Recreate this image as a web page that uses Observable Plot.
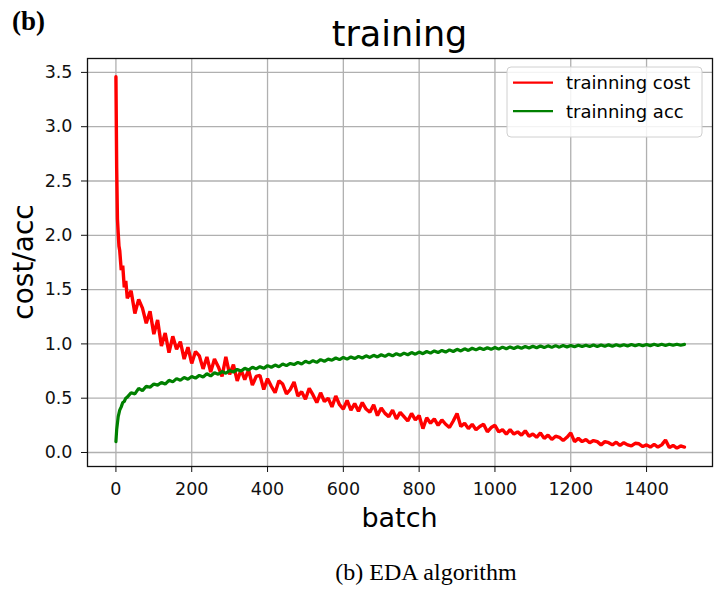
<!DOCTYPE html>
<html>
<head>
<meta charset="utf-8">
<script src="https://cdn.jsdelivr.net/npm/d3@7"></script>
<script src="https://cdn.jsdelivr.net/npm/@observablehq/plot@0.6"></script>
<style>
  html, body { margin: 0; padding: 0; background: #fff; }
  #chart { width: 715px; height: 595px; overflow: hidden; }
</style>
</head>
<body>
<div id="chart"></div>
<script>
// ---- data ----
const batchEarly = [0, 2, 4, 6, 8, 10, 14, 18, 22, 26, 30];
const batchLate = d3.range(40, 1501, 10);
const batch = [...batchEarly, ...batchLate];

const costValues = [
  3.46, 2.62, 2.15, 2.02, 1.90, 1.86, 1.68, 1.72, 1.52, 1.58, 1.42,
  1.49, 1.28, 1.41, 1.33, 1.19, 1.30, 1.09, 1.22, 0.98, 1.10,
  0.92, 1.07, 0.95, 1.02, 0.86, 0.97, 0.82, 0.93, 0.89, 0.77,
  0.88, 0.74, 0.86, 0.79, 0.70, 0.88, 0.72, 0.81, 0.66, 0.76,
  0.67, 0.76, 0.62, 0.70, 0.71, 0.58, 0.68, 0.61, 0.55, 0.66,
  0.63, 0.54, 0.58, 0.65, 0.52, 0.56, 0.49, 0.59, 0.53, 0.46,
  0.55, 0.47, 0.50, 0.42, 0.52, 0.44, 0.40, 0.48, 0.39, 0.45,
  0.38, 0.46, 0.40, 0.37, 0.44, 0.34, 0.41, 0.36, 0.33, 0.39,
  0.31, 0.37, 0.33, 0.29, 0.36, 0.30, 0.34, 0.22, 0.32, 0.27,
  0.31, 0.25, 0.30, 0.26, 0.23, 0.29, 0.36, 0.24, 0.27, 0.22,
  0.26, 0.21, 0.24, 0.26, 0.19, 0.23, 0.25, 0.19, 0.21, 0.17,
  0.21, 0.17, 0.19, 0.16, 0.20, 0.15, 0.17, 0.14, 0.18, 0.13,
  0.16, 0.12, 0.15, 0.14, 0.11, 0.14, 0.18, 0.10, 0.13, 0.10,
  0.12, 0.09, 0.11, 0.10, 0.07, 0.10, 0.09, 0.07, 0.095, 0.065,
  0.09, 0.07, 0.06, 0.085, 0.08, 0.055, 0.07, 0.05, 0.075, 0.05,
  0.07, 0.115, 0.045, 0.065, 0.04, 0.06, 0.05
];

const accValues = [
  0.10, 0.21, 0.27, 0.33, 0.36, 0.39, 0.42, 0.46, 0.47, 0.50, 0.51,
  0.55, 0.54, 0.59, 0.57, 0.61, 0.60, 0.63, 0.62, 0.645, 0.63,
  0.665, 0.65, 0.68, 0.665, 0.69, 0.675, 0.70, 0.685, 0.71, 0.695,
  0.725, 0.705, 0.735, 0.72, 0.745, 0.73, 0.755, 0.74, 0.765, 0.75,
  0.775, 0.76, 0.785, 0.77, 0.79, 0.775, 0.80, 0.785, 0.805, 0.79,
  0.815, 0.80, 0.82, 0.81, 0.83, 0.815, 0.84, 0.825, 0.845, 0.83,
  0.855, 0.84, 0.86, 0.85, 0.87, 0.855, 0.875, 0.86, 0.88, 0.865,
  0.885, 0.87, 0.89, 0.875, 0.895, 0.88, 0.90, 0.885, 0.905, 0.89,
  0.91, 0.895, 0.915, 0.90, 0.92, 0.905, 0.925, 0.91, 0.93, 0.915,
  0.935, 0.92, 0.94, 0.925, 0.945, 0.93, 0.95, 0.935, 0.955, 0.94,
  0.96, 0.945, 0.962, 0.948, 0.965, 0.95, 0.967, 0.952, 0.97, 0.955,
  0.972, 0.958, 0.974, 0.96, 0.976, 0.962, 0.978, 0.964, 0.98, 0.966,
  0.982, 0.968, 0.984, 0.97, 0.985, 0.972, 0.986, 0.974, 0.987, 0.975,
  0.988, 0.976, 0.989, 0.977, 0.99, 0.978, 0.991, 0.979, 0.992, 0.98,
  0.993, 0.981, 0.994, 0.982, 0.995, 0.983, 0.995, 0.984, 0.996, 0.985,
  0.996, 0.986, 0.997, 0.987, 0.997, 0.988, 0.995
];

const xTicks = [0, 200, 400, 600, 800, 1000, 1200, 1400];
const yTicks = [0.0, 0.5, 1.0, 1.5, 2.0, 2.5, 3.0, 3.5];
const seriesNames = ["trainning cost", "trainning acc"];
const seriesColors = ["#ff0000", "#008000"];

const costData = batch.map((b, i) => ({batch: b, value: costValues[i]}));
const accData = batch.map((b, i) => ({batch: b, value: accValues[i]}));

const W = 715, H = 595;
const mL = 87, mR = 3, mT = 58, mB = 129;
const font = "DejaVu Sans, sans-serif";

const chart = Plot.plot({
  width: W, height: H,
  marginLeft: mL, marginRight: mR, marginTop: mT, marginBottom: mB,
  style: {fontFamily: font, fontSize: "17.5px", color: "#000", background: "#fff", overflow: "visible"},
  x: {domain: [-75, 1574]},
  y: {domain: [-0.129, 3.628]},
  marks: [
    Plot.gridX(xTicks, {stroke: "#b0b0b0", strokeOpacity: 1, strokeWidth: 1.3}),
    Plot.gridY(yTicks, {stroke: "#b0b0b0", strokeOpacity: 1, strokeWidth: 1.3}),
    Plot.line(costData, {x: "batch", y: "value", stroke: seriesColors[0], strokeWidth: 3.4, strokeLinejoin: "miter"}),
    Plot.line(accData, {x: "batch", y: "value", stroke: seriesColors[1], strokeWidth: 3.2, strokeLinejoin: "miter"}),
    Plot.frame({stroke: "#111", strokeWidth: 1.3}),
    Plot.axisX(xTicks, {tickSize: 6, tickPadding: 10, label: null, fontSize: 17.5, tickFormat: d3.format("d"), stroke: "#111", fill: "#111"}),
    Plot.axisY(yTicks, {tickSize: 6, tickPadding: 9, label: null, fontSize: 17.5, tickFormat: d3.format(".1f"), stroke: "#111", fill: "#111"})
  ]
});

document.getElementById("chart").appendChild(chart);

// ---- annotations: panel tag, title, axis labels, legend, caption ----
const svg = d3.select(chart);
const ann = svg.append("g").attr("fill", "#000");

ann.append("text").text("(b)")
  .attr("x", 12).attr("y", 30)
  .attr("text-anchor", "start")
  .attr("font-family", "Liberation Serif, Times New Roman, serif")
  .attr("font-weight", "bold").attr("font-size", 27);

ann.append("text").text("training")
  .attr("x", (mL + W - mR) / 2).attr("y", 46)
  .attr("text-anchor", "middle")
  .attr("font-family", font).attr("font-size", 35);

ann.append("text").text("batch")
  .attr("x", (mL + W - mR) / 2).attr("y", 527)
  .attr("text-anchor", "middle")
  .attr("font-family", font).attr("font-size", 27);

ann.append("text").text("cost/acc")
  .attr("transform", `translate(33, ${mT + (H - mB - mT) / 2}) rotate(-90)`)
  .attr("text-anchor", "middle")
  .attr("font-family", font).attr("font-size", 28);

ann.append("text").text("(b) EDA algorithm")
  .attr("x", 426).attr("y", 580)
  .attr("text-anchor", "middle")
  .attr("font-family", "Liberation Serif, Times New Roman, serif")
  .attr("font-size", 24);

// legend
const lg = svg.append("g");
lg.append("rect")
  .attr("x", 507).attr("y", 67).attr("width", 195).attr("height", 70)
  .attr("rx", 4).attr("fill", "#fff").attr("fill-opacity", 0.85)
  .attr("stroke", "#d0d0d0").attr("stroke-width", 1);
seriesNames.forEach((name, i) => {
  const yy = 82.7 + i * 28.5;
  lg.append("line")
    .attr("x1", 513).attr("x2", 553).attr("y1", yy).attr("y2", yy)
    .attr("stroke", seriesColors[i]).attr("stroke-width", 2.3);
  lg.append("text").text(name)
    .attr("x", 566).attr("y", yy + 6.5)
    .attr("text-anchor", "start")
    .attr("font-family", font).attr("font-size", 18).attr("fill", "#000");
});
</script>
</body>
</html>
